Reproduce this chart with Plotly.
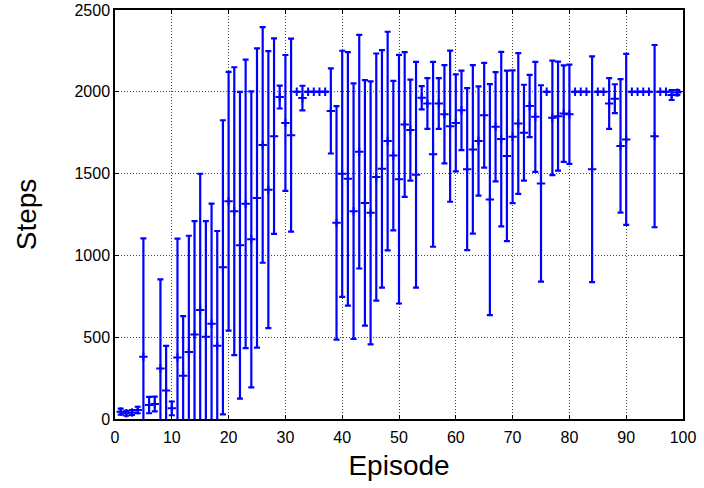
import plotly.graph_objects as go

# Episode index and per-episode statistics of steps survived
episodes = list(range(1, 100))

mean_steps = [
    45, 35, 40, 55, 380, 85, 92, 309, 174, 65,
    376, 265, 409, 516, 667, 502, 582, 447, 927, 1331,
    1270, 1062, 1315, 1098, 1351, 1675, 1402, 1729, 1968, 1810,
    1735, 2000, 1962, 2000, 2000, 2000, 2000, 1883, 1199, 1499,
    1468, 1270, 1634, 1321, 1260, 1479, 1529, 1699, 1610, 1466,
    1800, 1766, 1493, 1964, 1928, 1618, 1928, 1863, 1790, 1810,
    1887, 1527, 1648, 1699, 1857, 1341, 1786, 1711, 1608, 1725,
    1806, 1750, 1913, 1847, 1440, 2000, 1841, 1851, 1867, 1863,
    2000, 2000, 2000, 1527, 2000, 2000, 1928, 1958, 1669, 1709,
    2000, 2000, 2000, 2000, 1729, 2000, 2000, 1980, 1995,
]

std_steps = [
    18, 15, 15, 20, 724, 50, 45, 545, 273, 42,
    726, 364, 711, 693, 832, 707, 735, 702, 899, 791,
    880, 937, 882, 905, 915, 720, 847, 597, 70, 415,
    590, 0, 75, 0, 0, 0, 0, 260, 714, 752,
    775, 781, 714, 750, 804, 755, 726, 668, 457, 760,
    442, 309, 690, 71, 155, 565, 155, 300, 462, 297,
    243, 495, 515, 334, 320, 706, 334, 533, 521, 406,
    430, 293, 190, 336, 600, 0, 350, 333, 295, 303,
    0, 0, 0, 690, 0, 0, 155, 88, 408, 523,
    0, 0, 0, 0, 557, 0, 0, 30, 15,
]

x_ticks = [0, 10, 20, 30, 40, 50, 60, 70, 80, 90, 100]
y_ticks = [0, 500, 1000, 1500, 2000, 2500]

blue = "#0000ff"
font_family = "Liberation Sans, Arial, sans-serif"

fig = go.Figure(
    go.Scatter(
        x=episodes,
        y=mean_steps,
        mode="markers",
        marker=dict(symbol="cross-thin", size=6, color=blue,
                    line=dict(color=blue, width=2)),
        error_y=dict(type="data", array=std_steps, symmetric=True,
                     color=blue, thickness=2.2, width=3),
        showlegend=False,
    )
)

axis_common = dict(
    showline=True, linecolor="black", linewidth=1.5, mirror="ticks",
    ticks="inside", ticklen=4, tickcolor="black",
    showgrid=True, gridcolor="#444444", griddash="1px,2px", gridwidth=1,
    zeroline=False, automargin=False, ticklabeloverflow="allow",
    tickfont=dict(family=font_family, size=16, color="black"),
)

fig.update_xaxes(
    range=[0, 100], tickvals=x_ticks, ticklabelstandoff=3,
    title=dict(text="Episode", font=dict(family=font_family, size=28, color="black"),
               standoff=10),
    **axis_common,
)
fig.update_yaxes(
    range=[0, 2500], tickvals=y_ticks,
    title=dict(text="Steps", font=dict(family=font_family, size=28, color="black"),
               standoff=30),
    **axis_common,
)

fig.update_layout(
    width=704, height=488,
    margin=dict(l=115, r=21, t=10, b=69),
    plot_bgcolor="white", paper_bgcolor="white",
)

fig.write_html("out.html")
